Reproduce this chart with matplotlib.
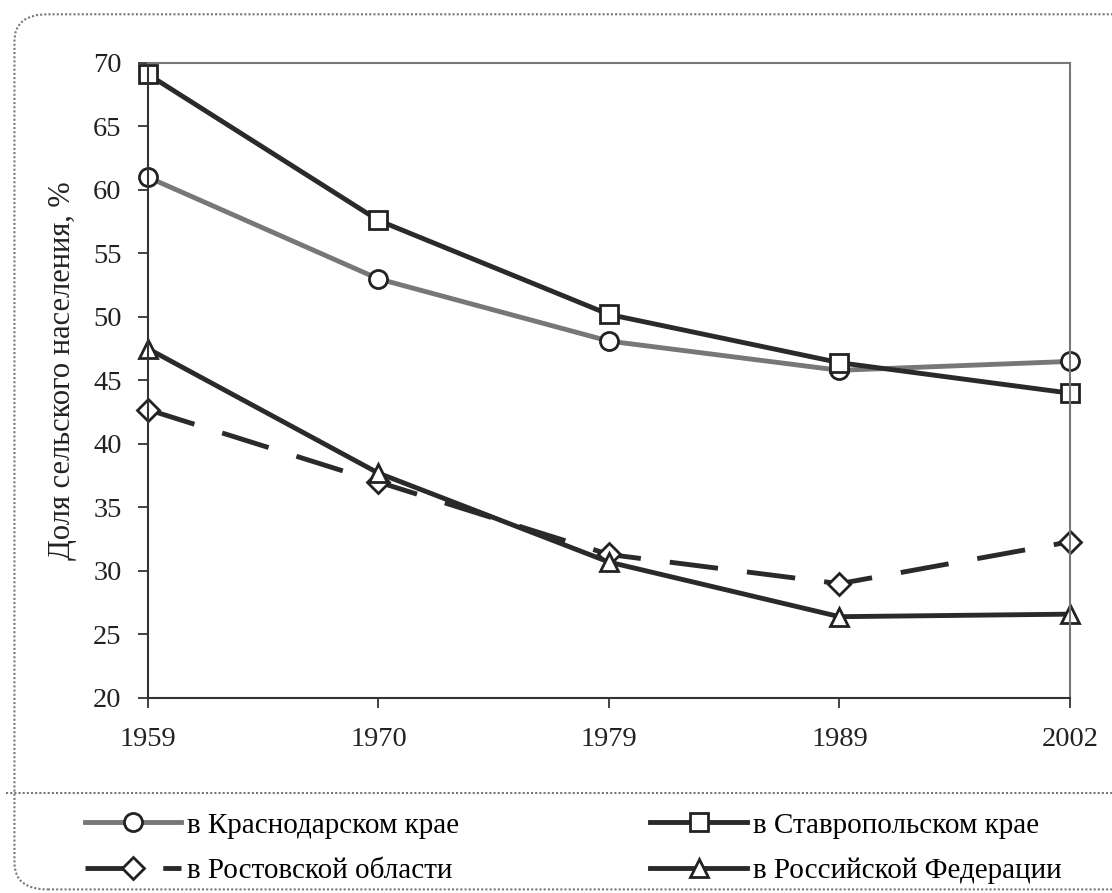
import matplotlib.pyplot as plt
from matplotlib.patches import FancyBboxPatch
from matplotlib.lines import Line2D

plt.rcParams['font.family'] = ['Liberation Serif', 'DejaVu Serif']

years = ['1959', '1970', '1979', '1989', '2002']
krasnodar = [61.0, 53.0, 48.1, 45.8, 46.5]
stavropol = [69.1, 57.6, 50.2, 46.4, 44.0]
rostov = [42.7, 37.0, 31.3, 29.0, 32.3]
russia = [47.5, 37.7, 30.7, 26.4, 26.6]

labels = ['в Краснодарском крае', 'в Ставропольском крае',
          'в Ростовской области', 'в Российской Федерации']

fig = plt.figure(figsize=(11.12, 8.93), dpi=100)
ax = fig.add_axes([0.1331, 0.2184, 0.8291, 0.7111])

x = range(len(years))
mk = dict(markerfacecolor='white', markeredgecolor='#222222', markeredgewidth=2, markersize=13)
l1, = ax.plot(x, krasnodar, color='#777777', lw=3.5, marker='o', **mk)
l2, = ax.plot(x, stavropol, color='#2a2a2a', lw=3.5, marker='s', **mk)
l3, = ax.plot(x, rostov, color='#2a2a2a', lw=3.5, marker='D', dashes=(10, 6), **dict(mk, markersize=11))
l4, = ax.plot(x, russia, color='#2a2a2a', lw=3.5, marker='^', **mk)

ax.set_xlim(0, len(years) - 1)
ax.set_ylim(20, 70)
ax.set_yticks(range(20, 71, 5))
ax.set_xticks(list(x))
ax.set_xticklabels(years)
ax.tick_params(labelsize=20.5, colors='#222222', length=7, width=1.2)
ax.tick_params(axis='x', pad=14)
ax.tick_params(axis='y', pad=12)
ax.set_ylabel('Доля сельского населения, %', fontsize=22, color='#222222')
ax.yaxis.set_label_coords(-0.077, 0.515)

for s in ['top', 'right']:
    ax.spines[s].set_linestyle((0, (1, 1)))
    ax.spines[s].set_color('#777777')
    ax.spines[s].set_linewidth(1.5)
for s in ['left', 'bottom']:
    ax.spines[s].set_color('#333333')
    ax.spines[s].set_linewidth(1.5)
for line in [l1, l2, l3, l4]:
    line.set_clip_on(False)

# outer frame and separator line above the legend
fig.patches.append(FancyBboxPatch((0.013, 0.004), 1.1, 0.98, boxstyle='round,pad=0,rounding_size=0.03',
                                  transform=fig.transFigure, fill=False, ec='#777777',
                                  lw=1.5, ls=(0, (1, 1))))
fig.add_artist(Line2D([0.005, 1.0], [0.112, 0.112], color='#777777', lw=1.5, ls=(0, (1, 1))))

fig.legend([l1, l3, l2, l4], [labels[0], labels[2], labels[1], labels[3]], loc='upper left',
           bbox_to_anchor=(0.0525, 0.12), ncol=2, frameon=False, fontsize=21,
           handlelength=3.3, handletextpad=0.2, columnspacing=6.57, labelspacing=0.65)

fig.savefig('out.png', dpi=100)
